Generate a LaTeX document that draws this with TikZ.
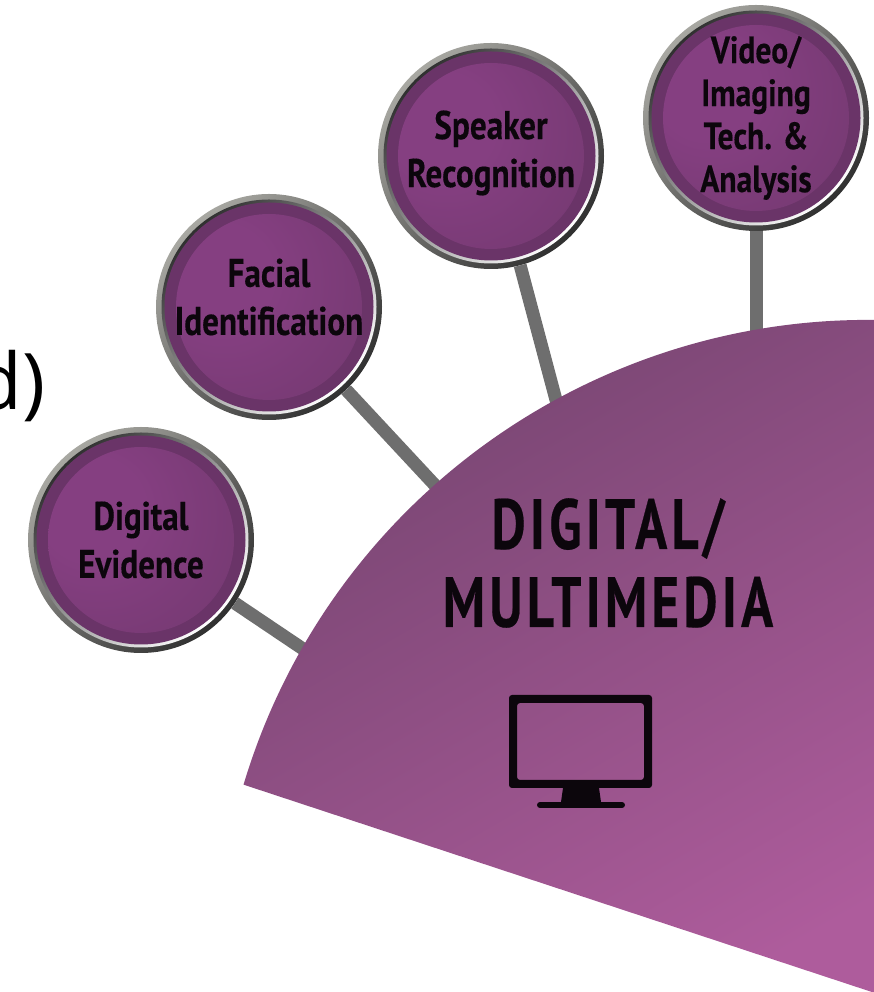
\documentclass[tikz,border=0pt]{standalone}
\usepackage{fontspec}
\setmainfont{Open Sans}
\newfontfamily\narrowbold[FakeStretch=0.83,FakeBold=0.3]{PT Sans Bold}
\newfontfamily\titlebold[FakeStretch=0.745,FakeBold=0.3,LetterSpace=6]{PT Sans Bold}
\definecolor{ringlight}{HTML}{A8A8A2}
\definecolor{ringdark}{HTML}{303030}
\definecolor{rimpurple}{HTML}{6A3468}
\definecolor{corepurple}{HTML}{853F81}
\definecolor{coreedge}{HTML}{6C3669}
\definecolor{linkgray}{HTML}{6E6E6E}
\definecolor{ink}{HTML}{0C060C}
\definecolor{secdark}{HTML}{74446F}
\definecolor{seclight}{HTML}{AE5C9C}
\pgfdeclareradialshading{corelit}{\pgfpoint{-16bp}{10bp}}{color(0bp)=(corepurple); color(14bp)=(corepurple); color(56bp)=(coreedge); color(80bp)=(coreedge)}
\pgfdeclarelayer{links}
\pgfsetlayers{links,main}
\newcommand{\bubble}[4][]{%
  \node[ringouter] (#2) at (#3) {};
  \node[ringinner] (#2-i) at (#3) {};
  \node[discrim] (#2-d) at (#3) {};
  \node[disccore] (#2-c) at (#3) {};
  \node[bubbletext,#1] (#2-t) at (#3) {#4};
}
\tikzset{
  ringouter/.style={circle,inner sep=0pt,minimum size=226pt,shade,shading=axis,top color=ringlight,bottom color=ringdark,shading angle=45},
  ringinner/.style={circle,inner sep=0pt,minimum size=215pt,shade,shading=axis,top color=ringdark,bottom color=white,shading angle=45},
  discrim/.style={circle,inner sep=0pt,minimum size=209pt,fill=rimpurple},
  disccore/.style={circle,inner sep=0pt,minimum size=186pt,shade,shading=corelit},
  bubbletext/.style={align=center,font=\narrowbold\fontsize{40}{48}\selectfont,text=ink},
  connector/.style={line width=13pt,draw=linkgray},
}
\begin{document}
\begin{tikzpicture}[x=1pt,y=1pt]
\clip (0,0) rectangle (874,992);
\node[anchor=base west,inner sep=0pt,font=\fontsize{78}{78}\selectfont] (frag) at (-26,582) {d)};

\coordinate (cornerend) at (884,-4);
\coordinate (e1) at (315,335);
\coordinate (e2) at (445,496);
\coordinate (e3) at (560,577);
\coordinate (e4) at (756,652);

\bubble{digital}{141,452}{Digital\\Evidence}
\bubble[yshift=10pt]{facial}{269,685}{Facial\\Identification}
\bubble[yshift=3pt]{speaker}{491,836}{Speaker\\Recognition}
\bubble[font=\narrowbold\fontsize{38}{43}\selectfont]{video}{756,874}{Video/\\Imaging\\Tech. \&\\Analysis}

\begin{pgfonlayer}{links}
\draw[connector] (digital) -- (e1);
\draw[connector] (facial) -- (e2);
\draw[connector] (speaker) -- (e3);
\draw[connector] (video) -- (e4);
\end{pgfonlayer}

\shade[top color=secdark,bottom color=seclight,shading angle=30]
  ([shift={(868,20)}]163.3:652) arc[start angle=163.3,end angle=80,radius=652] -- (cornerend) -- cycle;

\node[align=center,font=\titlebold\fontsize{71}{78}\selectfont,text=ink] (title) at (608,429) {DIGITAL/\\MULTIMEDIA};

\fill[ink,rounded corners=3pt,even odd rule] (509,204) rectangle (652,297) (517,212) rectangle (644,289);
\fill[ink] (563,204) -- (599,204) -- (601,190) -- (561,190) -- cycle;
\draw[ink,line width=6pt,line cap=round] (540,187) -- (622,187);
\end{tikzpicture}
\end{document}
